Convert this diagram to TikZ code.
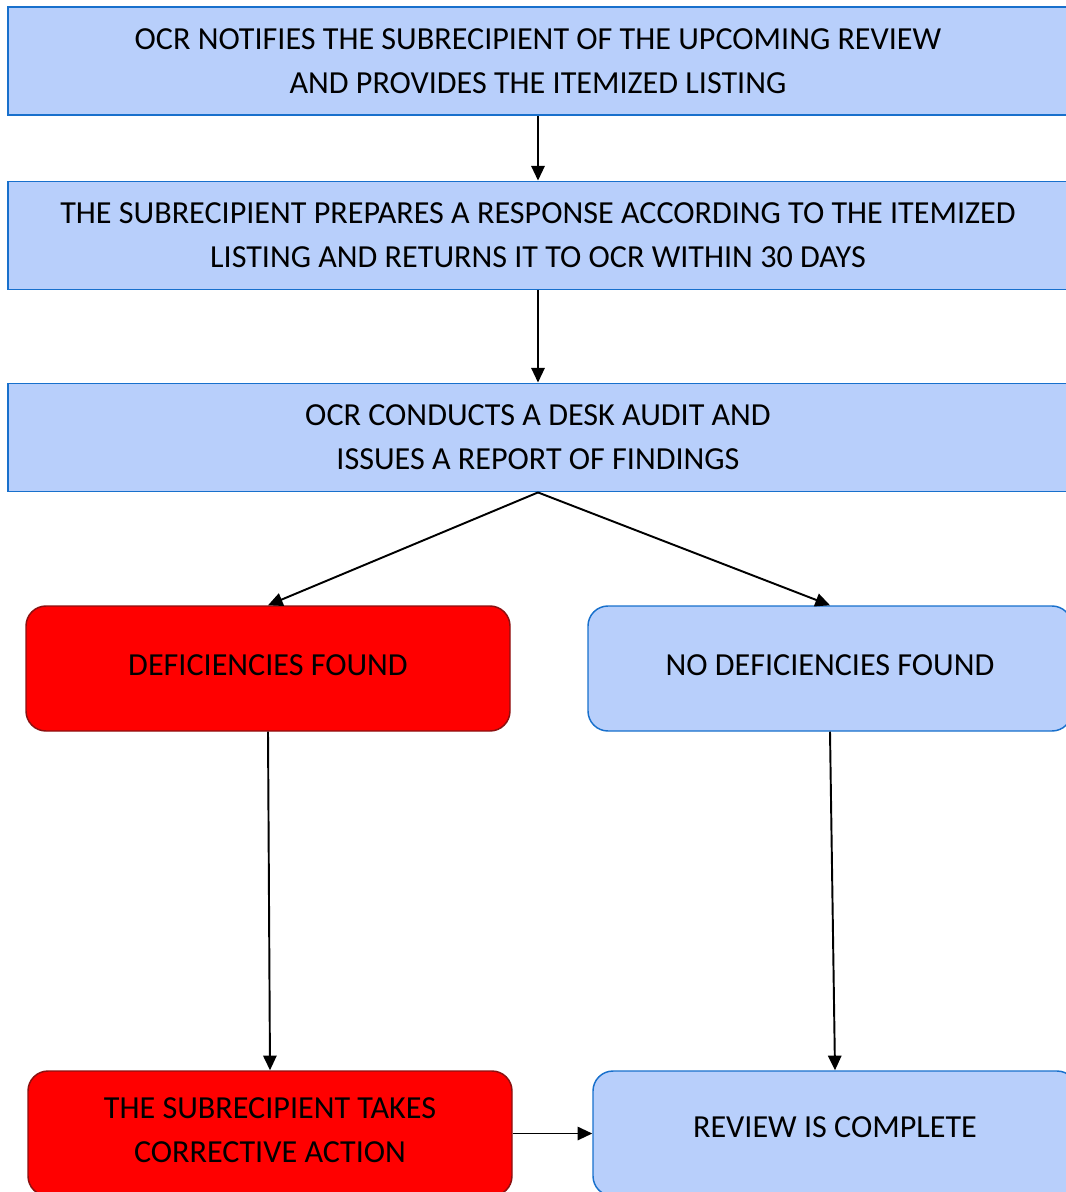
\documentclass[tikz,border=0pt]{standalone}
\usepackage{fontspec}
\setmainfont{Carlito}
\usetikzlibrary{arrows.meta}
\definecolor{boxblue}{RGB}{184,207,251}
\definecolor{lineblue}{RGB}{24,112,204}
\definecolor{boxred}{RGB}{255,0,0}
\definecolor{linered}{RGB}{140,16,16}
\tikzset{
  bluebox/.style={draw=lineblue, fill=boxblue, line width=1.4pt, align=center,
    minimum width=795pt, minimum height=81pt, inner sep=0pt},
  bluerbox/.style={draw=lineblue, fill=boxblue, line width=1.1pt, align=center,
    minimum width=363pt, minimum height=93.75pt, rounded corners=15pt, inner sep=0pt},
  redrbox/.style={draw=linered, fill=boxred, line width=1.1pt, align=center,
    minimum width=363pt, minimum height=93.75pt, rounded corners=15pt, inner sep=0pt},
  txt/.style={font=\fontsize{24.1}{33}\selectfont},
  conn/.style={line width=1.45pt, -{Triangle[length=11pt,width=10pt]}}
}
\begin{document}
\begin{tikzpicture}[x=0.75pt,y=-0.75pt]
\useasboundingbox (0,0) rectangle (1066,1192);
\clip (0,0) rectangle (1066,1192);
\node[bluebox, txt] (n1) at (538,61) {OCR NOTIFIES THE SUBRECIPIENT OF THE UPCOMING REVIEW\\AND PROVIDES THE ITEMIZED LISTING};
\node[bluebox, txt] (n2) at (538,235.5) {THE SUBRECIPIENT PREPARES A RESPONSE ACCORDING TO THE ITEMIZED\\LISTING AND RETURNS IT TO OCR WITHIN 30 DAYS};
\node[bluebox, txt] (n3) at (538,437.5) {OCR CONDUCTS A DESK AUDIT AND\\ISSUES A REPORT OF FINDINGS};
\node[redrbox, txt] (r1) at (268,668.5) {\raisebox{5.5pt}{DEFICIENCIES FOUND}};
\node[bluerbox, txt] (b1) at (830,668.5) {\raisebox{5.5pt}{NO DEFICIENCIES FOUND}};
\node[redrbox, txt] (r2) at (270,1133.5) {};
\node[txt, align=center] (r2t) at (270,1130.5) {THE SUBRECIPIENT TAKES\\CORRECTIVE ACTION};
\node[bluerbox, txt] (b2) at (835,1133.5) {};
\node[txt] (b2t) at (835,1127) {REVIEW IS COMPLETE};
\draw[conn] (n1.south) -- (n2.north);
\draw[conn] (n2.south) -- (n3.north);
\draw[conn] (n3.south) -- (r1.north);
\draw[conn] (n3.south) -- (b1.north);
\draw[conn] (r1.south) -- (r2.north);
\draw[conn] (b1.south) -- (b2.north);
\draw[conn] (r2.east) -- (b2.west);
\end{tikzpicture}
\end{document}
